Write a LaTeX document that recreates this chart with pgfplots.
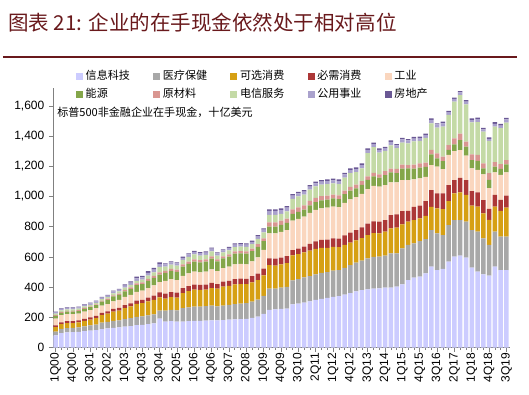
\documentclass[border=0pt]{standalone}
\usepackage{fontspec}
\setmainfont{Liberation Sans}
\newfontfamily\cjk{Noto Sans CJK SC}
\usepackage{pgfplots}
\usepackage{pgfplotstable}
\pgfplotsset{compat=1.18}
\definecolor{titlered}{RGB}{105,25,28}
\definecolor{cIT}{RGB}{204,204,255}
\definecolor{cHC}{RGB}{168,168,168}
\definecolor{cCD}{RGB}{214,160,20}
\definecolor{cCS}{RGB}{172,55,55}
\definecolor{cIND}{RGB}{250,214,190}
\definecolor{cEN}{RGB}{132,166,74}
\definecolor{cMAT}{RGB}{217,150,145}
\definecolor{cTEL}{RGB}{196,218,166}
\definecolor{cUT}{RGB}{170,162,205}
\definecolor{cRE}{RGB}{106,88,148}
\pgfplotstableread{
x it hc cd cs ind en mat tel ut re
0 80 25 30 12 45 17 6 10 9 3
1 96 27 32 12 47 16 6 10 9 4
2 100 28 33 13 47 16 6 10 9 4
3 102 28 32 13 46 16 6 10 9 4
4 104 29 33 13 46 16 6 10 9 4
5 108 32 36 14 48 18 6 10 10 4
6 112 34 38 15 49 19 6 10 10 4
7 115 37 42 16 50 20 6 10 10 4
8 122 42 50 16 48 26 7 10 10 5
9 126 44 54 16 48 28 7 10 10 5
10 130 46 62 18 50 32 8 13 12 5
11 133 47 64 19 53 33 8 14 12 5
12 138 50 72 20 55 37 9 15 13 9
13 142 52 78 21 56 40 10 16 14 9
14 148 55 86 22 58 44 11 18 16 11
15 150 56 88 22 60 44 11 18 15 11
16 155 58 92 25 64 48 12 22 18 12
17 160 60 95 28 68 50 13 24 18 12
18 192 52 88 33 68 50 15 36 18 12
19 172 72 80 33 85 52 14 28 14 7
20 175 74 84 34 86 54 14 28 14 7
21 172 74 84 33 84 54 14 28 14 7
22 172 88 100 33 82 60 15 30 14 7
23 174 92 108 33 84 63 15 31 16 7
24 176 95 112 34 86 66 15 32 17 7
25 176 95 110 33 84 65 15 31 16 7
26 178 96 110 33 85 66 15 30 16 7
27 180 98 115 35 90 70 16 32 18 8
28 180 92 118 30 85 65 14 24 15 7
29 182 96 125 33 90 64 14 26 14 6
30 184 98 126 34 93 66 15 27 16 8
31 186 102 130 35 98 70 15 28 18 8
32 188 102 130 36 98 70 15 29 16 8
33 190 104 126 35 96 70 15 30 16 8
34 196 108 128 40 98 68 16 30 15 8
35 205 112 130 42 108 70 17 36 17 8
36 222 120 135 45 125 58 18 40 18 8
37 250 140 155 46 165 45 28 50 25 11
38 252 138 152 46 168 45 28 50 25 11
39 256 140 154 46 170 46 28 45 25 11
40 258 144 156 47 172 48 28 48 25 11
41 285 160 165 35 195 45 30 70 20 11
42 290 162 166 36 198 46 30 72 20 11
43 298 166 166 38 198 47 29 70 20 11
44 305 168 168 45 205 50 30 74 20 11
45 315 170 168 50 208 52 28 76 20 11
46 322 172 166 52 210 52 28 76 20 11
47 328 172 160 55 212 52 27 76 20 11
48 335 174 158 56 210 54 26 74 20 11
49 340 172 152 57 208 54 25 74 20 11
50 350 178 152 62 215 58 24 86 21 11
51 360 185 150 66 220 58 24 91 21 11
52 372 190 148 68 218 58 24 83 21 11
53 380 195 150 70 222 60 24 86 21 11
54 385 205 155 75 228 62 24 154 20 11
55 390 210 158 78 235 62 24 170 19 10
56 392 210 154 77 232 60 22 144 18 9
57 396 212 159 77 232 66 26 134 18 9
58 396 227 166 88 216 66 26 154 22 11
59 403 221 170 88 212 60 29 137 18 9
60 418 238 159 88 205 77 26 146 22 9
61 447 232 154 71 205 77 22 143 20 9
62 462 227 154 88 183 71 26 154 18 11
63 469 236 150 84 181 71 29 148 18 11
64 491 227 154 97 161 66 29 163 18 11
65 535 243 154 110 166 71 29 177 22 11
66 513 243 166 99 177 55 33 170 22 7
67 520 225 172 104 161 53 29 199 22 11
68 568 243 159 106 199 33 33 199 18 9
69 601 243 177 88 192 44 40 243 18 9
70 608 236 183 97 183 66 44 254 18 9
71 595 238 177 99 161 60 33 247 18 11
72 529 249 161 97 150 55 38 212 15 11
73 502 265 166 95 148 60 40 216 20 11
74 484 238 166 88 170 40 33 210 15 11
75 476 203 166 73 137 55 44 214 13 11
76 535 232 166 77 150 38 29 236 18 11
77 513 221 170 73 166 40 31 238 18 11
78 513 221 192 79 154 53 29 249 20 11
}\datatable
\begin{document}
\begin{tikzpicture}[x=1pt,y=1pt]
\path[use as bounding box] (-39.75,-34.875) rectangle (357,260.625);
\node[anchor=west, text=titlered, font=\cjk\fontsize{15.4}{17}\selectfont, inner sep=0pt] at (-33.75,243.4) {图表 21: 企业的在手现金依然处于相对高位};
\draw[titlered, line width=1.5pt] (-37.5,217.9) -- (348,217.9);
\begin{axis}[
  at={(0,0)}, anchor=south west,
  width=342.5pt, height=194.8pt, scale only axis,
  xmin=-0.45, xmax=78.55, ymin=0, ymax=1720,
  ybar stacked, bar width=0.78,
  axis lines*=left,
  axis line style={draw=black!50},
  tick align=outside,
  major tick length=3pt, minor tick length=2pt,
  tick style={black!50, line width=0.5pt},
  ytick={0,200,...,1600},
  xtick={0,3,...,78},
  minor xtick={0,1,...,78},
  xticklabels={1Q00,4Q00,3Q01,2Q02,1Q03,4Q03,3Q04,2Q05,1Q06,4Q06,3Q07,2Q08,1Q09,4Q09,3Q10,2Q11,1Q12,4Q12,3Q13,2Q14,1Q15,4Q15,3Q16,2Q17,1Q18,4Q18,3Q19},
  xticklabel style={rotate=90, anchor=east, font=\fontsize{9}{10}\selectfont, inner sep=1pt},
  yticklabel style={font=\fontsize{9}{10}\selectfont},
  /pgf/number format/.cd, 1000 sep={,}, assume math mode=true,
  /pgfplots/.cd,
  legend columns=5,
  legend cell align=left,
  legend style={at={(0.05,1.078)}, anchor=north west, draw=none, fill=none,
    font=\cjk\fontsize{8.3}{10}\selectfont, inner sep=0pt,
    /tikz/every even column/.append style={column sep=15.5pt},
    row sep=1pt},
  legend image code/.code={\fill[#1] (0pt,-2.6pt) rectangle (5.2pt,2.6pt);},
]
\addplot[fill=cIT, draw=none] table[x=x,y=it] {\datatable};
\addplot[fill=cHC, draw=none] table[x=x,y=hc] {\datatable};
\addplot[fill=cCD, draw=none] table[x=x,y=cd] {\datatable};
\addplot[fill=cCS, draw=none] table[x=x,y=cs] {\datatable};
\addplot[fill=cIND, draw=none] table[x=x,y=ind] {\datatable};
\addplot[fill=cEN, draw=none] table[x=x,y=en] {\datatable};
\addplot[fill=cMAT, draw=none] table[x=x,y=mat] {\datatable};
\addplot[fill=cTEL, draw=none] table[x=x,y=tel] {\datatable};
\addplot[fill=cUT, draw=none] table[x=x,y=ut] {\datatable};
\addplot[fill=cRE, draw=none] table[x=x,y=re] {\datatable};
\legend{信息科技,医疗保健,可选消费,必需消费,工业,能源,原材料,电信服务,公用事业,房地产}
\end{axis}
\node[anchor=west, font=\cjk\fontsize{8.3}{10}\selectfont, inner sep=0pt] at (3,176.6) {标普500非金融企业在手现金，十亿美元};
\end{tikzpicture}
\end{document}
